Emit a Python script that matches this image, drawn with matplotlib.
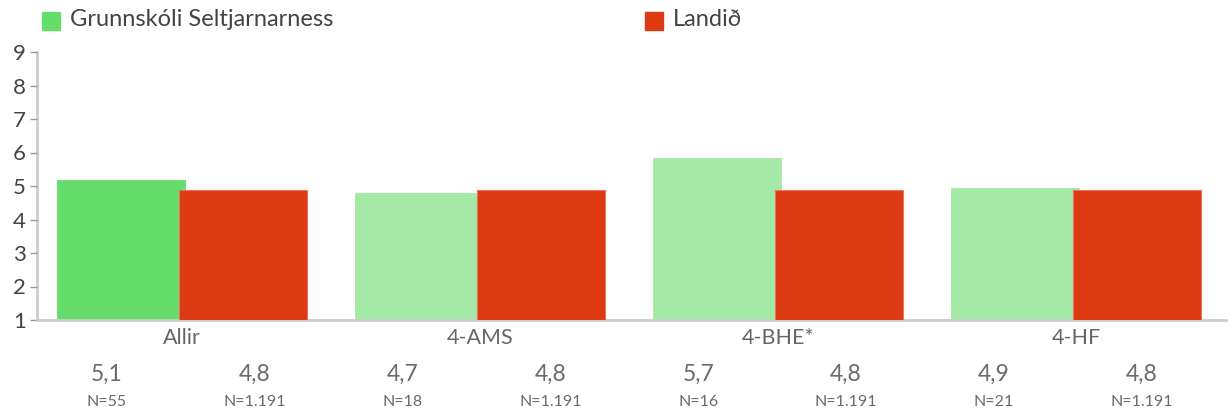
import matplotlib
matplotlib.use("Agg")
import matplotlib.pyplot as plt
from matplotlib.patches import Rectangle

categories = ["Allir", "4-AMS", "4-BHE*", "4-HF"]
school_values = [5.18, 4.79, 5.83, 4.94]
national_values = [4.88, 4.88, 4.88, 4.88]
school_labels = ["5,1", "4,7", "5,7", "4,9"]
national_labels = ["4,8", "4,8", "4,8", "4,8"]
school_n = ["N=55", "N=18", "N=16", "N=21"]
national_n = ["N=1.191", "N=1.191", "N=1.191", "N=1.191"]
series_names = ["Grunnskóli Seltjarnarness", "Landið"]
yticks = [1, 2, 3, 4, 5, 6, 7, 8, 9]

plt.rcParams['font.family'] = ['Lato', 'DejaVu Sans']

W, H = 1231, 417
fig = plt.figure(figsize=(W / 100, H / 100), dpi=100)
ax = fig.add_axes([37 / W, 1 - 320 / H, (1226 - 37) / W, (320 - 52) / H])

green_main = "#66dd6a"
green_light = "#a5e9a6"
red = "#dd3913"

x = list(range(len(categories)))
bw = 0.43
off = 0.205
for i in x:
    gc = green_main if i == 0 else green_light
    ax.bar(i - off, school_values[i] - 1, bottom=1, width=bw, color=gc,
           edgecolor=gc, linewidth=0.6, zorder=2)
    ax.bar(i + off, national_values[i] - 1, bottom=1, width=bw, color=red,
           edgecolor="#e8765a", linewidth=0.8, zorder=3)

ax.set_xlim(-0.487, 3.503)
ax.set_ylim(1, 9)
ax.set_yticks(yticks)
ax.set_yticklabels([str(t) for t in yticks], fontsize=16, color="#444444")
ax.tick_params(axis='y', length=5, width=1, color="#999999", pad=3)
ax.set_xticks(x)
ax.set_xticklabels(categories, fontsize=15.5, color="#666666")
ax.tick_params(axis='x', length=0, pad=6)
for s in ["top", "right"]:
    ax.spines[s].set_visible(False)
ax.spines["left"].set_color("#cccccc")
ax.spines["left"].set_linewidth(2)
ax.spines["bottom"].set_color("#cccccc")
ax.spines["bottom"].set_linewidth(2)
ax.spines["left"].set_zorder(1)

# value table below the chart: 8 evenly spaced columns
col0, colstep = 107, 147.8
vals = []
ns = []
for i in range(len(categories)):
    vals += [school_labels[i], national_labels[i]]
    ns += [school_n[i], national_n[i]]
for j in range(len(vals)):
    px = (col0 + colstep * j) / W
    fig.text(px, 1 - 374 / H, vals[j], ha="center", va="center",
             fontsize=16.5, color="#6a6a6a")
    fig.text(px, 1 - 402 / H, ns[j], ha="center", va="center",
             fontsize=11.5, color="#6a6a6a")

# legend
fig.patches.append(Rectangle((42 / W, 1 - 30 / H), 18 / W, 18 / H,
                             transform=fig.transFigure, color=green_main))
fig.text(70 / W, 1 - 20 / H, series_names[0], ha="left", va="center",
         fontsize=17, color="#444444")
fig.patches.append(Rectangle((645 / W, 1 - 30 / H), 18 / W, 18 / H,
                             transform=fig.transFigure, color=red))
fig.text(673 / W, 1 - 20 / H, series_names[1], ha="left", va="center",
         fontsize=17, color="#444444")

fig.savefig("out.png", dpi=100)
